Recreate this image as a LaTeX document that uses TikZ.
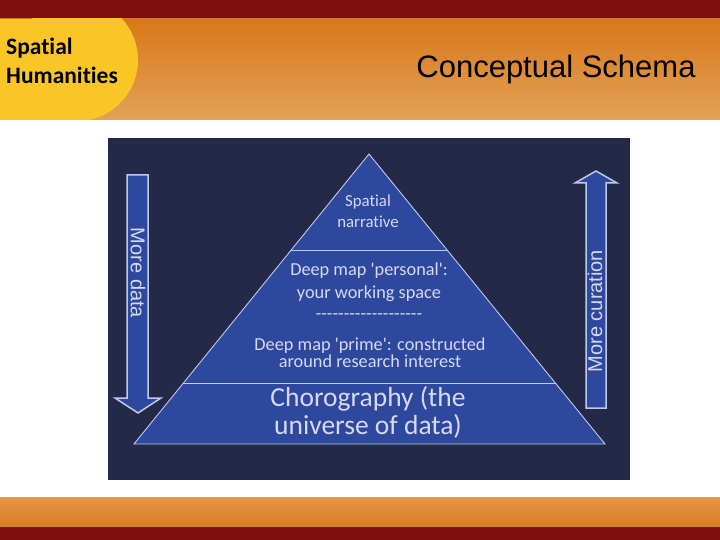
\documentclass[tikz,border=0pt]{standalone}
\usepackage{fontspec}
\setmainfont{Carlito}[Ligatures={TeX,CommonOff}]
\newfontfamily\arialf{Liberation Sans}
\usetikzlibrary{calc}
\definecolor{darkredc}{RGB}{128,14,14}
\definecolor{orTop}{RGB}{216,120,26}
\definecolor{orBot}{RGB}{227,162,86}
\definecolor{botTop}{RGB}{227,152,74}
\definecolor{botBot}{RGB}{217,123,32}
\definecolor{yellowc}{RGB}{250,198,37}
\definecolor{navyc}{RGB}{35,41,71}
\definecolor{pyrc}{RGB}{46,72,158}
\definecolor{edgec}{RGB}{192,200,238}
\definecolor{lavc}{RGB}{213,216,242}
\begin{document}
\begin{tikzpicture}[x=1pt,y=-1pt,
  ptext/.style={text=lavc,anchor=base,inner sep=0pt,font=\fontsize{18.3}{20}\selectfont},
  ptop/.style={ptext,font=\fontsize{16.8}{18}\selectfont},
  pbig/.style={ptext,font=\fontsize{27.5}{30}\selectfont,text height=0.68em,text depth=0.12em},
  atext/.style={text=lavc,inner sep=0pt,font=\arialf\fontsize{20}{22}\selectfont},
  htext/.style={anchor=base west,inner sep=0pt,font=\fontsize{23.5}{26}\selectfont\bfseries},
  arrowbox/.style={fill=pyrc,draw=edgec,line width=1.5pt,line join=miter},
  layer/.style={draw=edgec,line width=0.9pt}]
\useasboundingbox (0,0) rectangle (720,540);
% header
\fill[darkredc] (0,0) rectangle (720,19);
\shade[top color=orTop,bottom color=orBot] (0,19) rectangle (720,120);
\begin{scope}
  \clip (0,19) rectangle (720,120);
  \fill[yellowc] (0,19) rectangle (77,120);
  \fill[yellowc] (77,60) circle (61);
\end{scope}
\node[htext] (sp) at (6,55) {Spatial};
\node[htext] (hu) at (6,84) {Humanities};
\node[anchor=base,inner sep=0pt,font=\arialf\fontsize{31}{34}\selectfont] (title) at (556,78) {Conceptual Schema};
% footer
\shade[top color=botTop,bottom color=botBot] (0,497) rectangle (720,527);
\fill[darkredc] (0,527) rectangle (720,540);
\draw[black!80,line width=0.8pt] (0,527.4) -- (720,527.4);
% navy panel
\fill[navyc] (108,138) rectangle (630,480);
% pyramid
\coordinate (apex) at (369,154);
\coordinate (bl) at (134,444);
\coordinate (br) at (605,444);
\fill[pyrc] (apex) -- (br) -- (bl) -- cycle;
\draw[layer] (apex) -- (br) -- (bl) -- cycle;
\coordinate (d1l) at ($(apex)!0.331!(bl)$);
\coordinate (d1r) at ($(apex)!0.331!(br)$);
\coordinate (d2l) at ($(apex)!0.7897!(bl)$);
\coordinate (d2r) at ($(apex)!0.7897!(br)$);
\draw[layer] (d1l) -- (d1r);
\draw[layer] (d2l) -- (d2r);
% pyramid texts
\node[ptop] (t1) at (368,207) {Spatial};
\node[ptop] (t2) at (368,228) {narrative};
\node[ptext] (t3) at (369,275) {Deep\ map \textquotesingle personal\textquotesingle:};
\node[ptext] (t4) at (369,298) {your working space};
\node[ptext] (t5) at (369,319) {-{}-{}-{}-{}-{}-{}-{}-{}-{}-{}-{}-{}-{}-{}-{}-{}-{}-{}-};
\node[ptext] (t6) at (370,350) {Deep\ map \textquotesingle prime\textquotesingle: constructed};
\node[ptext] (t7) at (370,367) {around research\ interest};
\node[pbig] (t8) at (368,406.5) {Chorography (the};
\node[pbig] (t9) at (368,434) {universe of data)};
% arrows
\draw[arrowbox] (127,175) -- (148,175) -- (148,398) -- (161,398) -- (138,413) -- (115,398) -- (127,398) -- cycle;
\draw[arrowbox] (586,408) -- (606,408) -- (606,183) -- (617,183) -- (596,171) -- (575,183) -- (586,183) -- cycle;
\node[atext,rotate=-90] (moredata) at (138,273) {More data};
\node[atext,rotate=90] (morecur) at (595,311) {More curation};
\end{tikzpicture}
\end{document}
